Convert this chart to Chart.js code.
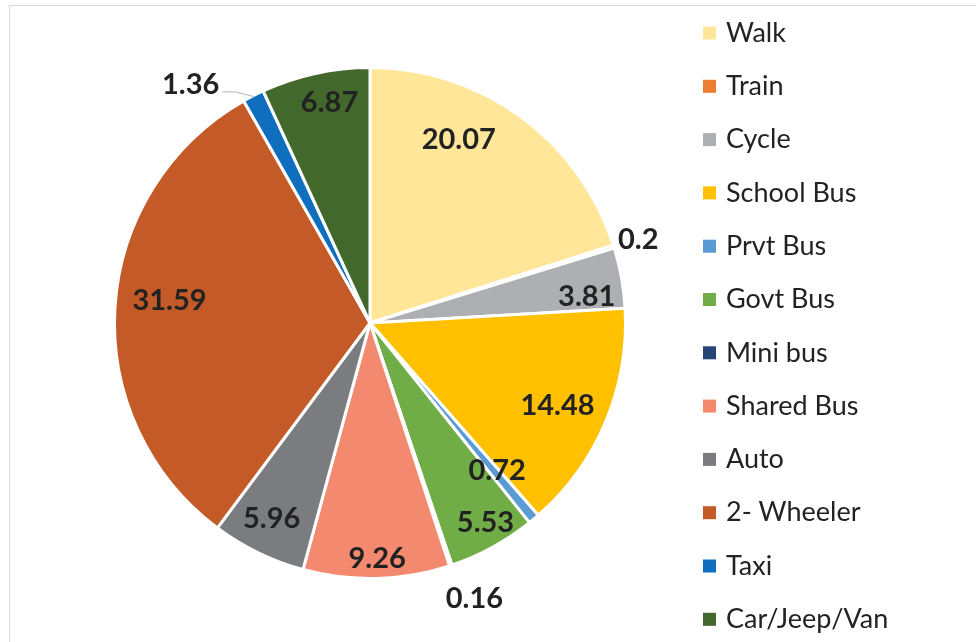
<!DOCTYPE html>
<html lang="en">
<head>
    <meta charset="UTF-8">
    <title>Mode of Travel</title>
    <script src="https://cdn.jsdelivr.net/npm/chart.js"></script>
    <style>
        html, body {
            margin: 0;
            padding: 0;
            background: #ffffff;
            overflow: hidden;
        }
        .frame {
            position: absolute;
            left: 9px;
            top: 5px;
            width: 1000px;
            height: 700px;
            border: 1px solid #d9d9d9;
        }
        .wrap {
            position: absolute;
            left: 0;
            top: 0;
            width: 976px;
            height: 642px;
        }
    </style>
</head>
<body>
    <div class="frame"></div>
    <div class="wrap">
        <canvas id="modeChart" width="976" height="642"></canvas>
    </div>
    <script>
        const modes = ['Walk', 'Train', 'Cycle', 'School Bus', 'Prvt Bus', 'Govt Bus', 'Mini bus',
            'Shared Bus', 'Auto', '2- Wheeler', 'Taxi', 'Car/Jeep/Van'];
        const shares = [20.07, 0.2, 3.81, 14.48, 0.72, 5.53, 0.16, 9.26, 5.96, 31.59, 1.36, 6.87];

        const colours = ['#FFE699', '#ED7D31', '#AEAFB3', '#FFC000', '#5B9BD5', '#70AD47', '#264478',
            '#F38A6F', '#7B7C80', '#C45A27', '#0F6FBE', '#43682B'];

        // where each value label sits: fraction of the radius, and a small turn (degrees) off the slice middle
        const labelRadius = [0.80, 1.10, 0.855, 0.80, 0.76, 0.90, 1.15, 0.92, 0.855, 0.79, 1.17, 0.88];
        const labelTurn = [-10.4, 0, 3, 0.7, -1, -1.5, -2.4, -0.3, 0.8, 3, -9.7, 2];
        const leaderFor = [10];  // slices whose label gets a leader line

        const labelFont = 'bold 29px Lato';
        const legendFont = '27px Lato';

        const valueLabels = {
            id: 'valueLabels',
            afterDatasetsDraw(chart) {
                const ctx = chart.ctx;
                const arcs = chart.getDatasetMeta(0).data;
                ctx.save();
                ctx.font = labelFont;
                ctx.fillStyle = '#222222';
                ctx.textAlign = 'center';
                ctx.textBaseline = 'middle';
                arcs.forEach((arc, i) => {
                    const p = arc.getProps(['x', 'y', 'startAngle', 'endAngle', 'outerRadius'], true);
                    const mid = (p.startAngle + p.endAngle) / 2;
                    const a = mid + labelTurn[i] * Math.PI / 180;
                    const r = p.outerRadius * labelRadius[i];
                    const lx = p.x + Math.cos(a) * r;
                    const ly = p.y + Math.sin(a) * r;
                    const text = String(shares[i]);
                    if (leaderFor.includes(i)) {
                        const w = ctx.measureText(text).width;
                        const ex = p.x + Math.cos(mid) * (p.outerRadius - 1);
                        const ey = p.y + Math.sin(mid) * (p.outerRadius - 1);
                        ctx.strokeStyle = '#b4b4b4';
                        ctx.lineWidth = 1;
                        ctx.beginPath();
                        ctx.moveTo(lx + w / 2 + 3, ly + 8);
                        ctx.lineTo(lx + w / 2 + 16, ly + 8);
                        ctx.lineTo(ex, ey);
                        ctx.stroke();
                    }
                    ctx.fillText(text, lx, ly + 1);
                });
                ctx.restore();
            }
        };

        const sideLegend = {
            id: 'sideLegend',
            afterDraw(chart) {
                const ctx = chart.ctx;
                ctx.save();
                ctx.font = legendFont;
                ctx.textBaseline = 'middle';
                ctx.textAlign = 'left';
                modes.forEach((name, i) => {
                    const y = 33 + i * 53.3;
                    ctx.fillStyle = colours[i];
                    ctx.fillRect(703, y - 6.5, 13, 13);
                    ctx.fillStyle = '#222222';
                    ctx.fillText(name, 726, y);
                });
                ctx.restore();
            }
        };

        new Chart(document.getElementById('modeChart'), {
            type: 'pie',
            data: {
                labels: modes,
                datasets: [{
                    data: shares,
                    backgroundColor: colours,
                    borderColor: '#ffffff',
                    borderWidth: 3
                }]
            },
            options: {
                responsive: false,
                animation: false,
                layout: {
                    padding: { left: 113, top: 66, right: 349, bottom: 62 }
                },
                plugins: {
                    legend: { display: false },
                    tooltip: { enabled: false }
                }
            },
            plugins: [valueLabels, sideLegend]
        });
    </script>
</body>
</html>
